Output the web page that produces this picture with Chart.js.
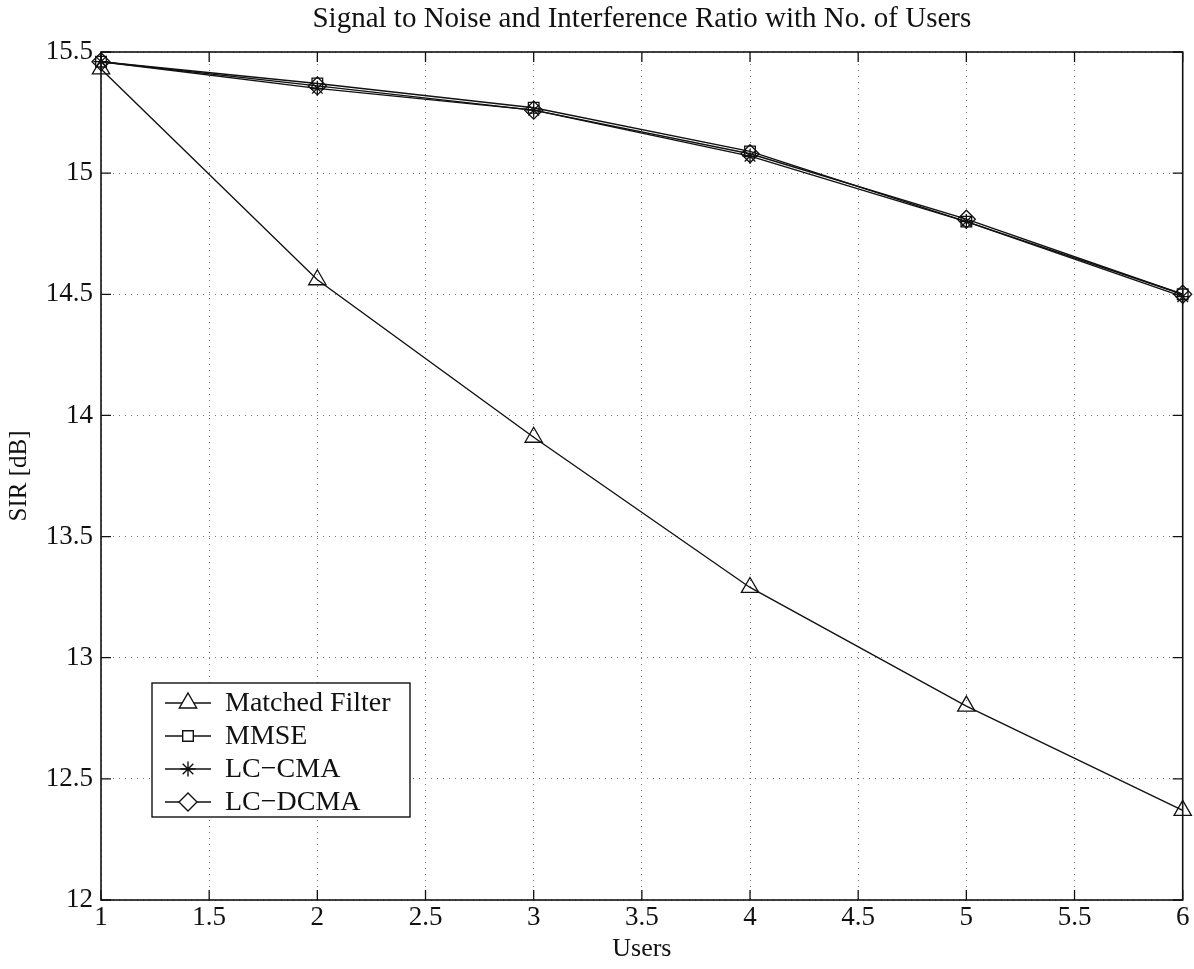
<!DOCTYPE html>
<html>
<head>
<meta charset="utf-8">
<script src="https://cdn.jsdelivr.net/npm/chart.js@4"></script>
<style>
  html, body { margin: 0; padding: 0; background: #fff; }
  #wrap { width: 1194px; height: 969px; }
</style>
</head>
<body>
<div id="wrap"><canvas id="myChart" width="1194" height="969"></canvas></div>
<script>
// data
var users = [1, 2, 3, 4, 5, 6];
var matchedFilter = [15.43, 14.56, 13.91, 13.29, 12.80, 12.37];
var mmse = [15.46, 15.37, 15.27, 15.09, 14.80, 14.50];
var lcCma = [15.46, 15.35, 15.26, 15.07, 14.80, 14.49];
var lcDcma = [15.46, 15.36, 15.26, 15.08, 14.81, 14.50];
var seriesNames = ['Matched Filter', 'MMSE', 'LC\u2212CMA', 'LC\u2212DCMA'];
var markers = ['triangle', 'rect', 'star', 'rectRot'];
var markerSizes = [10, 7.5, 7.5, 9];

var FONT = '"Liberation Serif", "Times New Roman", serif';

function pts(ys) {
    return users.map(function (u, i) { return { x: u, y: ys[i] }; });
}

function makeSet(i, ys) {
    return {
        label: seriesNames[i],
        data: pts(ys),
        borderColor: '#111',
        borderWidth: 1.4,
        pointStyle: markers[i],
        pointRadius: markerSizes[i],
        pointBorderColor: '#111',
        pointBorderWidth: 1.3,
        pointBackgroundColor: 'rgba(0,0,0,0)',
        fill: false,
        clip: false,
        tension: 0
    };
}

// frame, inward ticks, title and legend box like the original plot
var framePlugin = {
    id: 'frame',
    afterDraw: function (chart) {
        var c = chart.ctx, a = chart.chartArea;
        var xs = chart.scales.x, ys = chart.scales.y;
        c.save();
        c.strokeStyle = '#111';
        c.lineWidth = 1.6;
        c.strokeRect(a.left, a.top, a.right - a.left, a.bottom - a.top);
        c.lineWidth = 1.3;
        c.beginPath();
        xs.ticks.forEach(function (t) {
            var px = xs.getPixelForValue(t.value);
            c.moveTo(px, a.bottom); c.lineTo(px, a.bottom - 10);
            c.moveTo(px, a.top); c.lineTo(px, a.top + 10);
        });
        ys.ticks.forEach(function (t) {
            var py = ys.getPixelForValue(t.value);
            c.moveTo(a.left, py); c.lineTo(a.left + 10, py);
            c.moveTo(a.right, py); c.lineTo(a.right - 10, py);
        });
        c.stroke();

        // title
        c.fillStyle = '#111';
        c.font = '29px ' + FONT;
        c.textAlign = 'center';
        c.textBaseline = 'middle';
        c.fillText('Signal to Noise and Interference Ratio with No. of Users', (a.left + a.right) / 2, 19);

        // legend
        var lx = 152, ly = 683, lw = 258, lh = 134;
        c.fillStyle = '#fff';
        c.fillRect(lx, ly, lw, lh);
        c.strokeStyle = '#111';
        c.lineWidth = 1.4;
        c.strokeRect(lx, ly, lw, lh);
        chart.data.datasets.forEach(function (ds, i) {
            var yy = ly + 20 + i * 33;
            c.strokeStyle = '#111';
            c.lineWidth = 1.4;
            c.beginPath();
            c.moveTo(165, yy); c.lineTo(211, yy);
            c.stroke();
            c.fillStyle = '#fff';
            Chart.helpers.drawPoint(c, { pointStyle: ds.pointStyle, radius: ds.pointRadius, borderWidth: 1.3 }, 188, yy);
            c.fillStyle = '#111';
            c.font = '28px ' + FONT;
            c.textAlign = 'left';
            c.textBaseline = 'middle';
            c.fillText(ds.label, 225, yy + 1);
        });
        c.restore();
    }
};

var ctx = document.getElementById('myChart').getContext('2d');
var myChart = new Chart(ctx, {
    type: 'line',
    data: {
        datasets: [
            makeSet(0, matchedFilter),
            makeSet(1, mmse),
            makeSet(2, lcCma),
            makeSet(3, lcDcma)
        ]
    },
    options: {
        responsive: false,
        animation: false,
        layout: { padding: { top: 52, right: 11, left: 0, bottom: 0 } },
        plugins: {
            legend: { display: false },
            title: { display: false },
            tooltip: { enabled: false }
        },
        scales: {
            x: {
                type: 'linear',
                min: 1, max: 6,
                ticks: {
                    stepSize: 0.5,
                    color: '#111',
                    font: { family: FONT, size: 27 },
                    padding: 2,
                    maxRotation: 0,
                    callback: function (v) { return String(v); }
                },
                grid: { color: '#777', lineWidth: 1, drawTicks: false },
                border: { display: false, dash: [1, 5] },
                title: {
                    display: true, text: 'Users', color: '#111',
                    font: { family: FONT, size: 26 }, padding: { top: 0, bottom: 4 }
                },
                afterFit: function (s) { s.height = 69; }
            },
            y: {
                min: 12, max: 15.5,
                ticks: {
                    stepSize: 0.5,
                    color: '#111',
                    font: { family: FONT, size: 27 },
                    padding: 8,
                    callback: function (v) { return String(v); }
                },
                grid: { color: '#777', lineWidth: 1, drawTicks: false },
                border: { display: false, dash: [1, 5] },
                title: {
                    display: true, text: 'SIR [dB]', color: '#111',
                    font: { family: FONT, size: 25 }, padding: { bottom: 0 }
                },
                afterFit: function (s) { s.width = 101; }
            }
        }
    },
    plugins: [framePlugin]
});
</script>
</body>
</html>
